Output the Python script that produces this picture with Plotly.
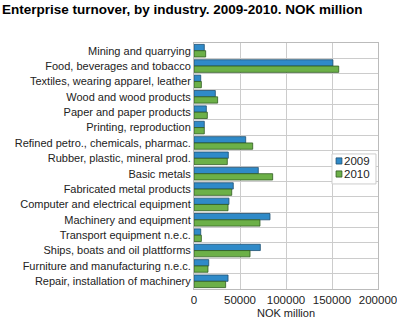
import plotly.graph_objects as go

categories = [
    "Mining and quarrying",
    "Food, beverages and tobacco",
    "Textiles, wearing apparel, leather",
    "Wood and wood products",
    "Paper and paper products",
    "Printing, reproduction",
    "Refined petro., chemicals, pharmac.",
    "Rubber, plastic, mineral prod.",
    "Basic metals",
    "Fabricated metal products",
    "Computer and electrical equipment",
    "Machinery and equipment",
    "Transport equipment n.e.c.",
    "Ships, boats and oil plattforms",
    "Furniture and manufacturing n.e.c.",
    "Repair, installation of machinery",
]
values_2009 = [11200, 151000, 7300, 23200, 13400, 11200, 56200, 37300, 69900,
               42700, 38000, 82600, 7300, 72100, 16000, 37000]
values_2010 = [12700, 157300, 8000, 25700, 14500, 11200, 63800, 36200, 85500,
               41000, 37000, 71700, 8000, 60900, 15200, 34400]
x_ticks = [0, 50000, 100000, 150000, 200000]
series_names = ["2009", "2010"]
colors = ["#2f8ac8", "#6cb048"]
edges = ["#1f4f70", "#2f5a1f"]

font = "Liberation Sans"

fig = go.Figure()
for name, vals, c, e in zip(series_names, [values_2009, values_2010], colors, edges):
    fig.add_trace(go.Bar(
        y=categories, x=vals, name=name, orientation="h",
        marker=dict(color=c, line=dict(color=e, width=0.8)),
    ))

# custom compact legend
shapes = [dict(type="rect", xref="paper", yref="paper",
               x0=0.75, x1=0.989, y0=0.427, y1=0.549,
               fillcolor="white", line=dict(color="#cccccc", width=1), layer="above")]
annotations = []
sq_y = [(0.508, 0.533), (0.455, 0.480)]
txt_y = [0.520, 0.467]
for i, name in enumerate(series_names):
    shapes.append(dict(type="rect", xref="paper", yref="paper",
                       x0=0.772, x1=0.804, y0=sq_y[i][0], y1=sq_y[i][1],
                       fillcolor=colors[i], line=dict(color=edges[i], width=0.8),
                       layer="above"))
    annotations.append(dict(text=name, xref="paper", yref="paper",
                            x=0.808, y=txt_y[i], xanchor="left", yanchor="middle",
                            showarrow=False, borderpad=0,
                            font=dict(size=11.5, color="#222", family=font)))

fig.update_layout(
    width=397, height=322,
    margin=dict(l=194, r=19, t=43, b=33),
    paper_bgcolor="white", plot_bgcolor="white",
    font=dict(family=font, size=11, color="#222"),
    title=dict(text="<b>Enterprise turnover, by industry. 2009-2010. NOK million</b>",
               x=0.005, xanchor="left", y=0.985, yanchor="top",
               font=dict(size=13.5, color="#000", family=font)),
    barmode="group", bargap=0.18, bargroupgap=0.0,
    showlegend=False,
    shapes=shapes, annotations=annotations,
    xaxis=dict(range=[0, 200000], tickvals=x_ticks,
               ticktext=[str(v) for v in x_ticks], tickangle=0,
               ticklabeloverflow="allow",
               showgrid=True, gridcolor="#cccccc", gridwidth=1,
               showline=True, linecolor="#bbbbbb", mirror=True,
               zeroline=False, ticks="", automargin=False,
               title=dict(text="NOK million", font=dict(size=11), standoff=4),
               tickfont=dict(size=11.5)),
    yaxis=dict(autorange="reversed", tickson="boundaries",
               showgrid=True, gridcolor="#cccccc", gridwidth=1,
               showline=True, linecolor="#bbbbbb", mirror=True,
               ticks="", ticklen=0, automargin=False, tickfont=dict(size=11)),
)

fig.write_html("out.html")
